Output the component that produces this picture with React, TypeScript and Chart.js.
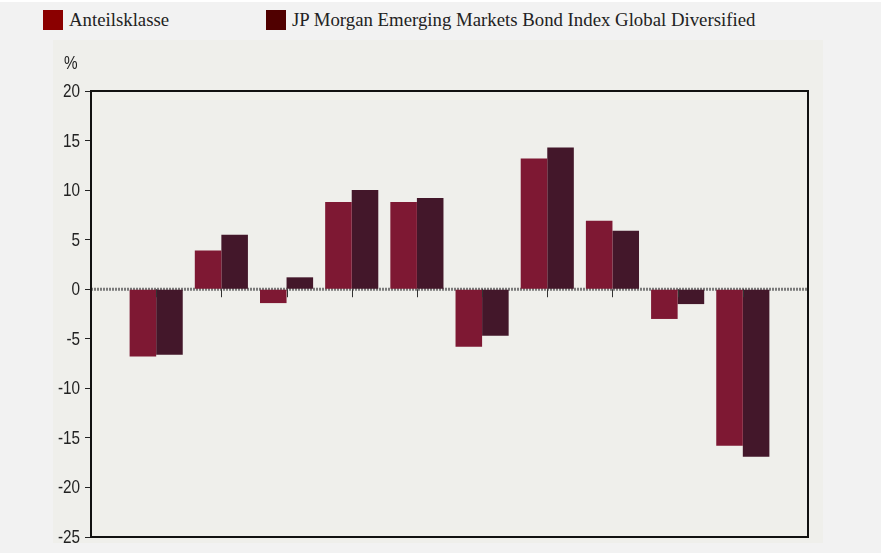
import React, { useEffect, useRef } from "react";
import { Chart, registerables } from "chart.js";

Chart.register(...registerables);

// Hidden category slots (first and last are empty padding slots)
const categories = ["", "1", "2", "3", "4", "5", "6", "7", "8", "9", "10", ""];
const seriesNames = ["Anteilsklasse", "JP Morgan Emerging Markets Bond Index Global Diversified"];
const anteilsklasse = [null, -6.8, 3.9, -1.4, 8.8, 8.8, -5.8, 13.2, 6.9, -3.0, -15.8, null];
const benchmark = [null, -6.6, 5.5, 1.2, 10.0, 9.2, -4.7, 14.3, 5.9, -1.5, -16.9, null];
const yTicks = [20, 15, 10, 5, 0, -5, -10, -15, -20, -25];
const yUnit = "%";

const barColors = ["#7e1833", "#43172a"];
const legendColors = ["#8b0000", "#500000"];

const tickFont = "'Liberation Sans', Arial, sans-serif";

export default function App() {
  const ref = useRef<HTMLCanvasElement | null>(null);

  useEffect(() => {
    if (!ref.current) return;
    const framePlugin = {
      id: "frame",
      beforeDatasetsDraw(chart: any) {
        const { ctx, chartArea, scales } = chart;
        const y0 = scales.y.getPixelForValue(0);
        ctx.save();
        ctx.strokeStyle = "#7a7a7a";
        ctx.lineWidth = 3;
        ctx.setLineDash([2, 1]);
        ctx.beginPath();
        ctx.moveTo(chartArea.left, y0);
        ctx.lineTo(chartArea.right, y0);
        ctx.stroke();
        ctx.restore();
      },
      afterDatasetsDraw(chart: any) {
        const { ctx, chartArea, scales } = chart;
        const y0 = scales.y.getPixelForValue(0);
        ctx.save();
        ctx.strokeStyle = "#333";
        ctx.lineWidth = 1;
        for (let i = 1; i < categories.length - 1; i++) {
          const x = Math.round(scales.x.getPixelForValue(i)) + 0.5;
          ctx.beginPath();
          ctx.moveTo(x, y0);
          ctx.lineTo(x, y0 + 8);
          ctx.stroke();
        }
        ctx.strokeStyle = "#111";
        ctx.lineWidth = 2;
        ctx.strokeRect(chartArea.left, chartArea.top, chartArea.right - chartArea.left, chartArea.bottom - chartArea.top);
        // narrow tick labels
        ctx.fillStyle = "#222";
        ctx.font = "18px " + tickFont;
        ctx.textBaseline = "middle";
        ctx.textAlign = "right";
        const labelRight = chartArea.left - 11;
        yTicks.forEach((v) => {
          const y = scales.y.getPixelForValue(v);
          ctx.save();
          ctx.translate(labelRight, y + 1);
          ctx.scale(0.85, 1);
          ctx.fillText(String(v), 0, 0);
          ctx.restore();
        });
        ctx.save();
        ctx.textAlign = "left";
        ctx.translate(64, 64);
        ctx.scale(0.85, 1);
        ctx.fillText(yUnit, 0, 0);
        ctx.restore();
        ctx.restore();
      },
    };

    const chart = new Chart(ref.current, {
      type: "bar",
      data: {
        labels: categories,
        datasets: [
          { label: seriesNames[0], data: anteilsklasse, backgroundColor: barColors[0], borderWidth: 0 },
          { label: seriesNames[1], data: benchmark, backgroundColor: barColors[1], borderWidth: 0 },
        ],
      },
      options: {
        animation: false,
        responsive: false,
        maintainAspectRatio: false,
        layout: { padding: { left: 51, right: 73, top: 91, bottom: 16 } },
        plugins: { legend: { display: false }, tooltip: { enabled: false } },
        datasets: { bar: { categoryPercentage: 0.815, barPercentage: 1 } },
        scales: {
          x: {
            offset: false,
            ticks: { display: false },
            grid: { display: false },
            border: { display: false },
            afterFit: (s: any) => { s.height = 0; },
          },
          y: {
            min: -25,
            max: 20,
            afterBuildTicks: (s: any) => { s.ticks = yTicks.map((v) => ({ value: v })); },
            afterFit: (s: any) => { s.width = 40; },
            ticks: { display: false },
            grid: { drawOnChartArea: false, drawTicks: true, tickLength: 6, color: "#222", lineWidth: 1 },
            border: { display: false },
          },
        },
      },
      plugins: [framePlugin],
    });
    return () => chart.destroy();
  }, []);

  return (
    <div style={{ position: "absolute", left: 0, top: 0, width: 881, height: 553, background: "#f2f2f2", overflow: "hidden" }}>
      <div style={{ position: "absolute", left: 0, top: 0, width: 881, height: 2, background: "#ffffff" }} />
      <div style={{ position: "absolute", left: 53, top: 40, width: 770, height: 503, background: "#efefeb" }} />
      {seriesNames.map((name, i) => (
        <div key={name} style={{ position: "absolute", left: i === 0 ? 43 : 266, top: 10, height: 20, display: "flex", alignItems: "center", whiteSpace: "nowrap" }}>
          <span style={{ display: "inline-block", width: 20, height: 20, background: legendColors[i], marginRight: 6 }} />
          <span style={{ fontFamily: "'Liberation Serif', 'Times New Roman', serif", fontSize: 18.8, color: "#222", lineHeight: "20px" }}>{name}</span>
        </div>
      ))}
      <canvas ref={ref} width={881} height={553} style={{ position: "absolute", left: 0, top: 0, width: 881, height: 553 }} />
    </div>
  );
}
